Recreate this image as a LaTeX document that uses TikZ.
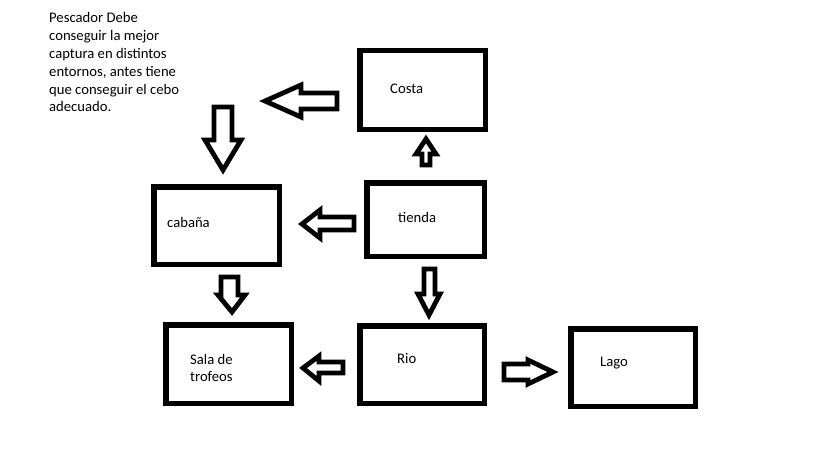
\documentclass[tikz,border=0pt]{standalone}
\usepackage{fontspec}
\setmainfont{Carlito}
\begin{document}
\begin{tikzpicture}[x=1pt,y=-1pt,
  box/.style={draw=black,line width=5.5pt,inner sep=0pt,minimum width=125pt,minimum height=78pt},
  txt/.style={inner sep=0pt,anchor=west,font=\fontsize{14.67}{17.8}\selectfont},
  blockarrow/.style={draw=black,line width=4.8pt,line join=miter,fill=white}]
\useasboundingbox (0,0) rectangle (819,460);
\fill[white] (0,0) rectangle (819,460);
% intro text
\node[inner sep=0pt,anchor=north west,align=left,font=\fontsize{14.67}{17.8}\selectfont] (intro) at (49,12.5)
  {Pescador Debe\\conseguir la mejor\\captura en distintos\\entornos, antes tiene\\que conseguir el cebo\\adecuado.};
% boxes
\node[box,minimum width=125.5pt,minimum height=78.5pt] (costa) at (422.5,90) {};
\node[box,minimum width=117.5pt,minimum height=73.5pt] (tienda) at (425.5,219.5) {};
\node[box,minimum width=125.5pt,minimum height=77.5pt] (cabana) at (216.5,225.5) {};
\node[box,minimum width=125.5pt,minimum height=78.5pt] (sala) at (228.5,364) {};
\node[box,minimum width=124.5pt,minimum height=77.5pt] (rio) at (422,364.5) {};
\node[box,minimum width=124.5pt,minimum height=77.5pt] (lago) at (633,367.5) {};
% labels
\node[txt] (tcosta) at (390,89) {Costa};
\node[txt] (ttienda) at (398,217) {tienda};
\node[txt] (tcabana) at (167,222) {cabaña};
\node[txt] (tsala1) at (190,359) {Sala de};
\node[txt] (tsala2) at (190,377) {trofeos};
\node[txt] (trio) at (397,358) {Rio};
\node[txt] (tlago) at (600,363) {Lago};
% block arrows
\draw[blockarrow] (337,93) -- (301,93) -- (301,85) -- (265,101) -- (301,117) -- (301,109) -- (337,109) -- cycle;
\draw[blockarrow] (214,107) -- (232,107) -- (232,140) -- (241,140) -- (223,170) -- (205,140) -- (214,140) -- cycle;
\draw[blockarrow] (422,165) -- (430,165) -- (430,154) -- (436,154) -- (426,139) -- (416,154) -- (422,154) -- cycle;
\draw[blockarrow] (354,217) -- (320,217) -- (320,210) -- (302,224) -- (320,238) -- (320,230) -- (354,230) -- cycle;
\draw[blockarrow] (424,269) -- (435,269) -- (435,294) -- (440,294) -- (429,315) -- (418,294) -- (424,294) -- cycle;
\draw[blockarrow] (221,277) -- (238,277) -- (238,295) -- (245,295) -- (232,312) -- (218,295) -- (221,295) -- cycle;
\draw[blockarrow] (343,362) -- (319,362) -- (319,356) -- (303,368) -- (319,381) -- (319,373) -- (343,373) -- cycle;
\draw[blockarrow] (504,364) -- (528,364) -- (528,360) -- (553,372) -- (528,384) -- (528,380) -- (504,380) -- cycle;
\end{tikzpicture}
\end{document}
